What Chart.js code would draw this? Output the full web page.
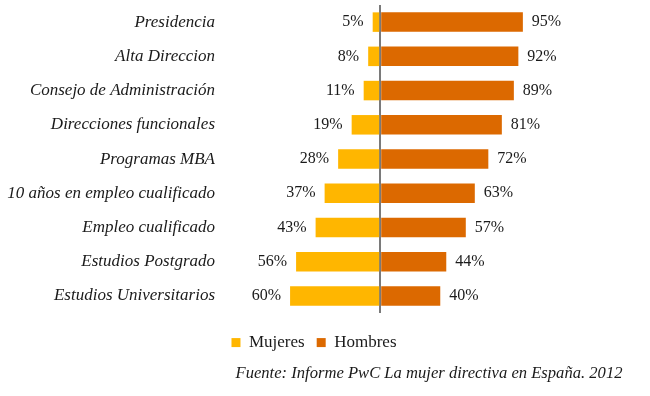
<!DOCTYPE html>
<html>
<head>
<meta charset="utf-8">
<script src="https://cdn.jsdelivr.net/npm/chart.js@4"></script>
<style>
  html, body { margin: 0; padding: 0; background: #fff; }
  #caja { width: 650px; height: 396px; }
</style>
</head>
<body>
<div id="caja"><canvas id="barras"></canvas></div>
<script>
const categorias = [
  "Presidencia",
  "Alta Direccion",
  "Consejo de Administración",
  "Direcciones funcionales",
  "Programas MBA",
  "10 años en empleo cualificado",
  "Empleo cualificado",
  "Estudios Postgrado",
  "Estudios Universitarios"
];
const mujeres = [5, 8, 11, 19, 28, 37, 43, 56, 60];
const hombres = [95, 92, 89, 81, 72, 63, 57, 44, 40];
const fuente = "Fuente: Informe PwC La mujer directiva en España. 2012";

const serif = "'Liberation Serif', 'DejaVu Serif', serif";
const tinta = "#1a1a1a";

// porcentajes al lado de cada barra
const etiquetas = {
  id: "etiquetas",
  afterDatasetsDraw(chart) {
    const ctx = chart.ctx;
    ctx.save();
    ctx.font = "16px " + serif;
    ctx.fillStyle = tinta;
    ctx.textBaseline = "middle";
    [mujeres, hombres].forEach((valores, i) => {
      chart.getDatasetMeta(i).data.forEach((bar, j) => {
        const texto = valores[j] + "%";
        if (i === 0) {
          ctx.textAlign = "right";
          ctx.fillText(texto, Math.min(bar.x, bar.base) - 9, bar.y);
        } else {
          ctx.textAlign = "left";
          ctx.fillText(texto, Math.max(bar.x, bar.base) + 9, bar.y);
        }
      });
    });
    ctx.restore();
  }
};

let barras = new Chart(document.getElementById("barras"), {
  type: "bar",
  data: {
    labels: categorias,
    datasets: [
      {
        label: "Mujeres",
        data: mujeres.map(v => -v),
        backgroundColor: "#FFB600",
        barPercentage: 0.57,
        categoryPercentage: 1
      },
      {
        label: "Hombres",
        data: hombres,
        backgroundColor: "#DC6900",
        barPercentage: 0.57,
        categoryPercentage: 1
      }
    ]
  },
  options: {
    indexAxis: "y",
    responsive: true,
    maintainAspectRatio: false,
    animation: false,
    layout: {
      padding: { top: 5, right: 22, left: 0, bottom: 0 }
    },
    scales: {
      x: {
        stacked: true,
        min: -100,
        max: 165,
        ticks: { display: false, stepSize: 50 },
        border: { display: false },
        grid: {
          drawTicks: false,
          lineWidth: 2,
          color: c => (c.tick && c.tick.value === 0 ? "#7a7a7a" : "transparent")
        },
        afterFit: s => { s.height = 9; s.paddingLeft = 0; s.paddingRight = 0; }
      },
      y: {
        stacked: true,
        grid: { display: false, drawTicks: false },
        border: { display: false },
        ticks: {
          padding: 15,
          color: tinta,
          font: { family: serif, size: 17, style: "italic" }
        },
        afterFit: s => { s.width = 230; s.paddingTop = 0; s.paddingBottom = 0; }
      }
    },
    plugins: {
      tooltip: { enabled: false },
      legend: {
        position: "bottom",
        labels: {
          boxWidth: 9,
          boxHeight: 9,
          padding: 12,
          color: tinta,
          font: { family: serif, size: 17 }
        }
      },
      subtitle: {
        display: true,
        text: fuente,
        position: "bottom",
        fullSize: false,
        align: "center",
        color: tinta,
        font: { family: serif, size: 16.6, style: "italic" },
        padding: { top: 3, bottom: 12 }
      }
    }
  },
  plugins: [etiquetas]
});
</script>
</body>
</html>
